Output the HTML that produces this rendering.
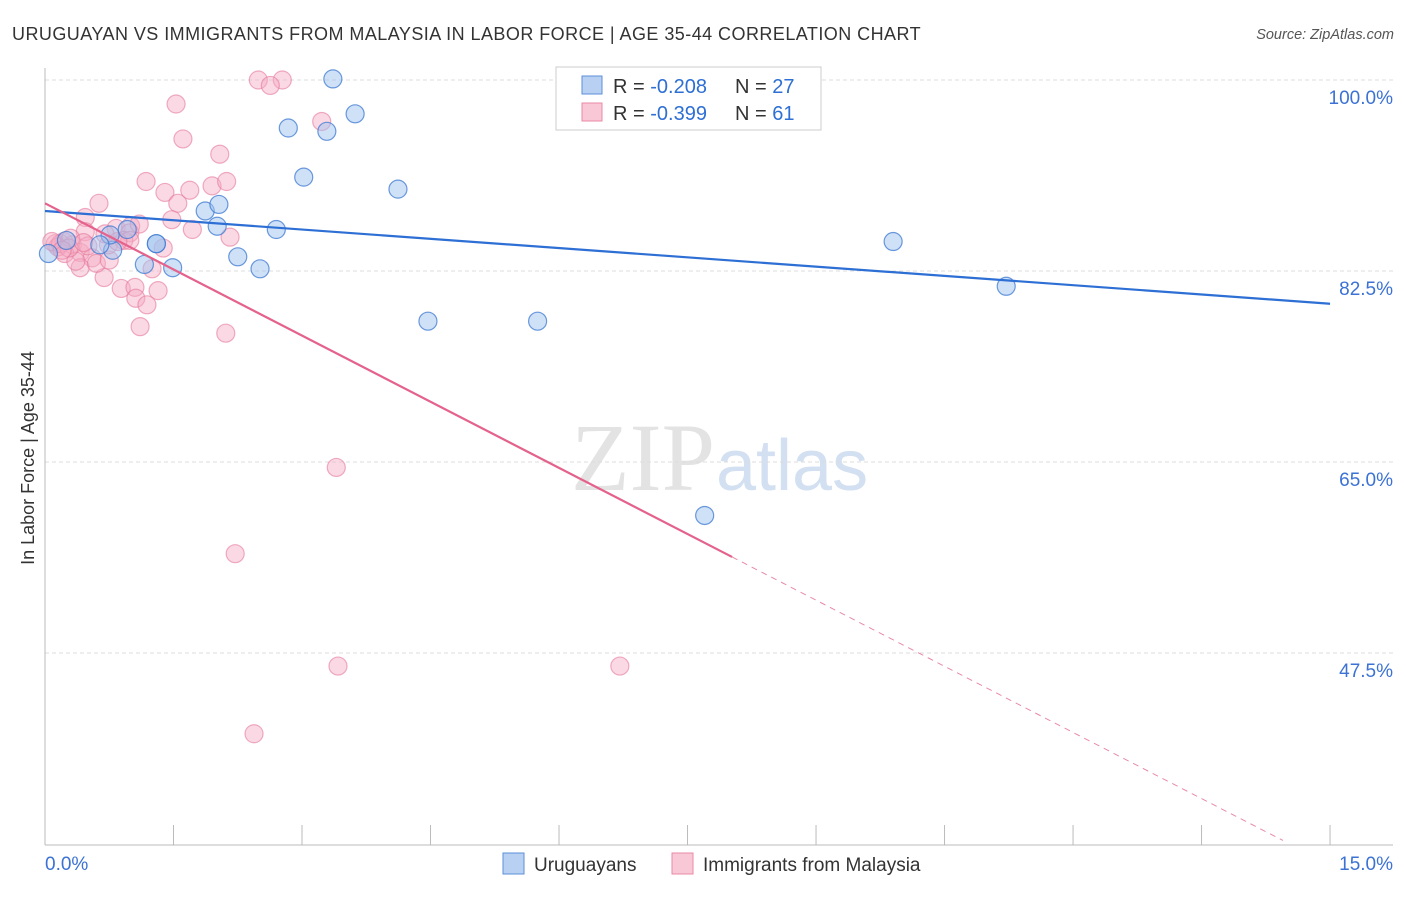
<!DOCTYPE html>
<html><head><meta charset="utf-8"><style>
body{margin:0;background:#fff;font-family:"Liberation Sans",sans-serif;}
</style></head><body>
<svg width="1406" height="892" xmlns="http://www.w3.org/2000/svg" id="svg">
<text x="12" y="40" font-size="18" fill="#333" letter-spacing="0.45">URUGUAYAN VS IMMIGRANTS FROM MALAYSIA IN LABOR FORCE | AGE 35-44 CORRELATION CHART</text>
<text x="1394" y="39" font-size="14.5" fill="#555" font-style="italic" text-anchor="end">Source: ZipAtlas.com</text>
<text x="715" y="490" font-size="96" fill="#e3e3e3" text-anchor="end" font-family="Liberation Serif,serif">ZIP</text>
<text x="716" y="490" font-size="72" fill="#d2e0f2">atlas</text>
<text transform="translate(34,458) rotate(-90)" font-size="18" fill="#333" text-anchor="middle">In Labor Force | Age 35-44</text>
<g id="grid"></g><g id="pts"></g><g id="lines"></g>
<g>
<rect x="556" y="67" width="265" height="63" fill="#fff" stroke="#ccc"/>
<rect x="582" y="76" width="20" height="18" fill="#b8d1f3" stroke="#5b8fd9"/>
<rect x="582" y="103" width="20" height="18" fill="#f8c8d6" stroke="#e88aa6"/>
<text x="613" y="93" font-size="20" fill="#333">R = <tspan fill="#2d6fd4">-0.208</tspan><tspan x="735">N = </tspan><tspan fill="#2d6fd4">27</tspan></text>
<text x="613" y="120" font-size="20" fill="#333">R = <tspan fill="#2d6fd4">-0.399</tspan><tspan x="735">N = </tspan><tspan fill="#2d6fd4"> 61</tspan></text>
</g>
<g>
<rect x="503" y="853" width="21" height="21" fill="#b8d1f3" stroke="#5b8fd9"/>
<text x="534" y="871" font-size="19" fill="#333">Uruguayans</text>
<rect x="672" y="853" width="21" height="21" fill="#f8c8d6" stroke="#e88aa6"/>
<text x="703" y="871" font-size="19" fill="#333">Immigrants from Malaysia</text>
</g>
</svg>
<script>
const yTicks=[100,82.5,65,47.5];
const xLabels=["0.0%","15.0%"];
const blueX=[3.36,3.62,2.84,3.29,3.02,4.12,1.87,2.03,2.70,2.01,1.30,0.79,1.16,1.49,2.25,2.51,4.47,5.75,9.90,11.22,7.70,0.04,0.76,0.64,0.25,0.96,1.30];
const blueY=[100.1,96.9,95.6,95.3,91.1,90.0,88.0,88.6,86.3,86.6,85.0,84.4,83.1,82.8,83.8,82.7,77.9,77.9,85.2,81.1,60.1,84.1,85.8,84.9,85.3,86.3,85.0];
const pinkX=[2.49,2.77,2.63,1.53,1.61,2.04,3.23,1.18,1.40,1.69,1.95,2.12,0.63,1.55,1.48,0.47,1.72,2.16,0.83,1.00,0.47,0.22,0.32,0.12,0.41,0.55,0.41,0.69,0.89,1.05,1.32,1.06,1.19,1.11,2.11,1.38,1.25,3.40,2.22,3.42,6.71,2.44,0.99,0.60,0.75,0.23,0.15,0.74,0.92,0.18,0.08,0.99,0.30,0.50,0.70,0.36,1.10,0.28,0.45,0.85,0.20];
const pinkY=[100,100,99.5,97.8,94.6,93.2,96.2,90.7,89.7,89.9,90.3,90.7,88.7,88.7,87.2,87.4,86.3,85.6,86.4,86.6,86.1,85.2,84.9,85.0,84.2,83.7,82.8,81.9,80.9,81.0,80.7,80.0,79.4,77.4,76.8,84.6,82.7,64.5,56.6,46.3,46.3,40.1,86.0,83.2,83.5,84.1,84.7,84.9,85.3,85.0,85.2,85.3,85.5,84.8,85.9,83.4,86.8,84.6,85.1,85.2,84.4];
const blueTrend=[88.0,79.5];
const pinkTrend=[88.7,28.1];
const pinkSolidEnd=8.02, pinkDashEnd=14.45;
const X=v=>45+v*85.67, Y=v=>80+(100-v)*10.914;
const NS="http://www.w3.org/2000/svg";
function mk(t,a,p){const e=document.createElementNS(NS,t);for(const k in a)e.setAttribute(k,a[k]);p.appendChild(e);return e;}
const g=document.getElementById('grid');
yTicks.forEach(v=>{
 const l=mk('line',{x1:45,x2:1393,y1:Y(v),y2:Y(v),stroke:'#ddd','stroke-dasharray':'4,3'},g);
 
 
 const t=mk('text',{x:1393,y:Y(v)+24,'font-size':19,fill:'#3b72d4','text-anchor':'end'},g);
 t.textContent=v.toFixed(1)+'%';
 
 
});
const ax=mk('line',{x1:45,x2:45,y1:68,y2:845,stroke:'#bbb'},g);


const bx=mk('line',{x1:45,x2:1393,y1:845,y2:845,stroke:'#bbb'},g);


for(let i=0;i<=10;i++){const t=mk('line',{x1:X(i*1.5),x2:X(i*1.5),y1:825,y2:845,stroke:'#bbb'},g);
 
 }
[[0,'start',45],[1,'end',1393]].forEach(([i,a,x])=>{const t=mk('text',{x:x,y:870,'font-size':19,fill:'#3b72d4','text-anchor':a},g);t.textContent=xLabels[i];
 
 });
const p=document.getElementById('pts');
pinkX.forEach((v,i)=>{const c=mk('circle',{cx:X(v),cy:Y(pinkY[i]),r:9,fill:'rgba(245,170,195,0.45)',stroke:'rgba(230,120,155,0.6)','stroke-width':1.2},p);
 
 });
blueX.forEach((v,i)=>{const c=mk('circle',{cx:X(v),cy:Y(blueY[i]),r:9,fill:'rgba(160,195,240,0.5)',stroke:'rgba(60,120,210,0.75)','stroke-width':1.2},p);
 
 });
const L=document.getElementById('lines');
const pyAt=x=>pinkTrend[0]+(pinkTrend[1]-pinkTrend[0])*x/15;
const b=mk('line',{x1:X(0),y1:Y(blueTrend[0]),x2:X(15),y2:Y(blueTrend[1]),stroke:'#2d6fd4','stroke-width':2.2},L);


const s=mk('line',{x1:X(0),y1:Y(pyAt(0)),x2:X(pinkSolidEnd),y2:Y(pyAt(pinkSolidEnd)),stroke:'#e4628c','stroke-width':2.2},L);


const d=mk('line',{x1:X(pinkSolidEnd),y1:Y(pyAt(pinkSolidEnd)),x2:X(pinkDashEnd),y2:Y(pyAt(pinkDashEnd)),stroke:'#e88aa6','stroke-width':1,'stroke-dasharray':'6,5'},L);


</script>
</body></html>
